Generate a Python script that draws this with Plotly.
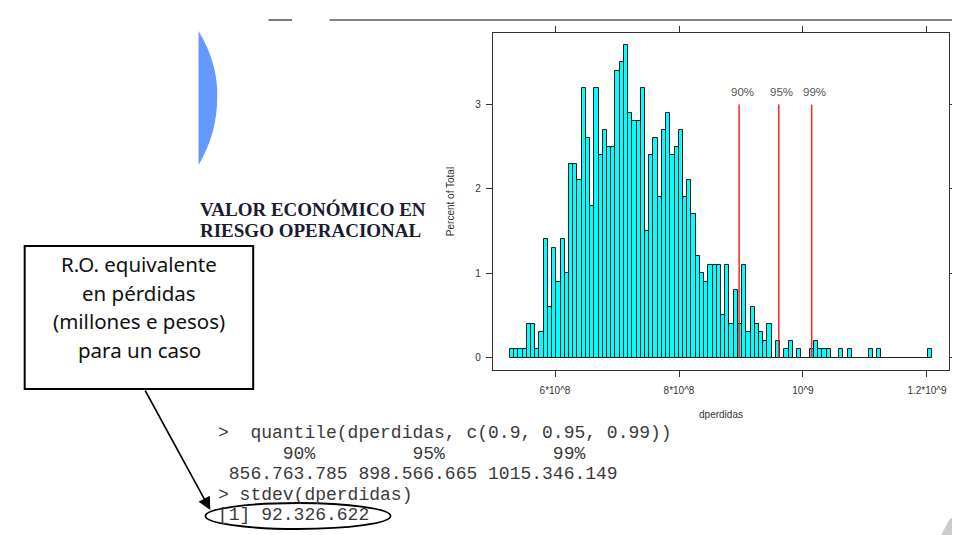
import plotly.graph_objects as go

# ---------------- data ----------------
bin_start = 5.272e8          # left edge of first histogram bin
bin_width = 6.811e6          # width of each bin
percent = [
    0.1, 0.1, 0.1, 0.1, 0.4, 0.4, 0.1, 0.3, 1.4, 0.6,
    1.3, 0.9, 1.4, 1.0, 2.3, 2.3, 2.1, 3.2, 2.6, 1.8,
    3.2, 2.4, 2.7, 2.5, 2.5, 3.4, 3.5, 3.7, 2.9, 2.8,
    2.8, 3.2, 1.5, 2.4, 2.6, 1.9, 2.7, 2.9, 2.4, 2.5,
    2.7, 1.9, 2.1, 1.7, 1.2, 1.0, 0.9, 1.1, 1.1, 1.1,
    0.5, 1.1, 0.4, 0.8, 0.4, 1.1, 0.3, 0.6, 0.4, 0.3,
    0.2, 0.4, 0.0, 0.2, 0.0, 0.1, 0.2, 0.0, 0.1, 0.0,
    0.0, 0.1, 0.2, 0.1, 0.1, 0.1, 0.0, 0.0, 0.1, 0.0,
    0.1, 0.0, 0.0, 0.0, 0.0, 0.1, 0.0, 0.1, 0.0, 0.0,
    0.0, 0.0, 0.0, 0.0, 0.0, 0.0, 0.0, 0.0, 0.0, 0.1,
]
quantile_labels = ["90%", "95%", "99%"]
quantile_pos = [8.97e8, 9.61e8, 1.014e9]
quantile_line_top = 3.0
x_tickvals = [6e8, 8e8, 1e9, 1.2e9]
x_ticktext = ["6*10^8", "8*10^8", "10^9", "1.2*10^9"]
y_tickvals = [0, 1, 2, 3]

title_lines = ["VALOR ECONÓMICO EN", "RIESGO OPERACIONAL"]
box_lines = ["R.O. equivalente", "en pérdidas", "(millones e pesos)", "para un caso"]
console_lines = [
    ">  quantile(dperdidas, c(0.9, 0.95, 0.99))",
    "      90%         95%          99%",
    " 856.763.785 898.566.665 1015.346.149",
    "> stdev(dperdidas)",
    "[1] 92.326.622",
]

# ---------------- layout geometry (pixels) ----------------
W, H = 960, 535
L, R, T, B = 485, 948, 25, 362


def px(x):
    return (x - L) / (R - L)


def py(y):
    return (B - y) / (B - T)


n = len(percent)
centers = [bin_start + (i + 0.5) * bin_width for i in range(n)]
lo, hi = bin_start, bin_start + n * bin_width
pad = 0.04 * (hi - lo)
ymax = max(percent)

fig = go.Figure()
fig.add_trace(go.Bar(
    x=centers, y=percent, width=bin_width,
    marker=dict(color="#00FFFF", line=dict(color="#1a1a1a", width=1)),
    hoverinfo="x+y", showlegend=False,
))

shapes = []
annotations = []

# quantile lines and labels
for lab, q in zip(quantile_labels, quantile_pos):
    shapes.append(dict(type="line", xref="x", yref="y", x0=q, x1=q, y0=0, y1=quantile_line_top,
                       line=dict(color="#F02828", width=1.5)))
    annotations.append(dict(xref="x", yref="y", x=q, y=quantile_line_top, text=lab, showarrow=False,
                            xanchor="center", yanchor="bottom", xshift=3, yshift=5,
                            font=dict(family="Liberation Sans, Arial", size=11.5, color="#555555")))

# page top rule
shapes.append(dict(type="line", xref="paper", yref="paper", x0=px(257), x1=px(281), y0=py(12), y1=py(12),
                   line=dict(color="#5a5a5a", width=1.6)))
shapes.append(dict(type="line", xref="paper", yref="paper", x0=px(319), x1=px(960), y0=py(12), y1=py(12),
                   line=dict(color="#5a5a5a", width=1.6)))

# blue lens shape
shapes.append(dict(type="path", xref="paper", yref="paper",
                   path=(f"M {px(186)},{py(23)} C {px(200)},{py(45)} {px(206)},{py(70)} {px(205)},{py(90)} "
                         f"C {px(205)},{py(112)} {px(199)},{py(136)} {px(186)},{py(157)} Z"),
                   fillcolor="#6699FF", line=dict(width=0)))

# title
for i, t in enumerate(title_lines):
    annotations.append(dict(xref="paper", yref="paper", x=px(185), y=py(201 + 21.5 * i), text=f"<b>{t}</b>",
                            showarrow=False, xanchor="left", yanchor="middle",
                            font=dict(family="Liberation Serif, Times New Roman", size=19, color="#1a1a30")))

# call-out box
box_top, box_bottom = 238, 381
shapes.append(dict(type="rect", xref="paper", yref="paper", x0=px(9.5), x1=px(241.5), y0=py(box_top), y1=py(box_bottom),
                   line=dict(color="black", width=2), fillcolor="rgba(0,0,0,0)"))
for i, t in enumerate(box_lines):
    annotations.append(dict(xref="paper", yref="paper", x=px(126), y=py(256 + 28.5 * i), text=t,
                            showarrow=False, xanchor="center", yanchor="middle",
                            font=dict(family="Noto Sans, Lato", size=20.5, color="#111111")))

# console text
row0, row_step = 425, 20.5
for i, t in enumerate(console_lines):
    annotations.append(dict(xref="paper", yref="paper", x=px(204), y=py(row0 + row_step * i),
                            text=t.replace(" ", "&nbsp;"), showarrow=False, xanchor="left", yanchor="middle",
                            font=dict(family="Liberation Mono, Courier New", size=18, color="#3a3a3a")))

# ellipse around result
y5 = row0 + row_step * 4
shapes.append(dict(type="circle", xref="paper", yref="paper", x0=px(193), x1=px(381), y0=py(y5 - 12), y1=py(y5 + 14),
                   line=dict(color="black", width=1.8)))

# arrow from box to result
annotations.append(dict(xref="paper", yref="paper", x=px(198), y=py(y5 - 5), text="", showarrow=True,
                        ax=132 - 198, ay=box_bottom - (y5 - 5), arrowhead=2, arrowsize=1.6, arrowwidth=1.6,
                        arrowcolor="black"))

# faint grey mark at the bottom-right corner
shapes.append(dict(type="path", xref="paper", yref="paper",
                   path=(f"M {px(937)},{py(533)} L {px(948)},{py(512)} L {px(960)},{py(503)} "
                         f"L {px(960)},{py(535)} L {px(940)},{py(535)} Z"),
                   fillcolor="#b5b5b5", line=dict(width=0), opacity=0.7))

fig.update_layout(
    width=W, height=H,
    margin=dict(l=L, r=W - R, t=T, b=H - B, pad=0),
    paper_bgcolor="white", plot_bgcolor="white",
    shapes=shapes, annotations=annotations,
    bargap=0, showlegend=False,
    font=dict(family="Liberation Sans, Arial", size=10, color="#333333"),
)
fig.update_xaxes(
    range=[lo - pad, hi + pad], tickvals=x_tickvals, ticktext=x_ticktext,
    ticks="outside", ticklen=6, tickcolor="#333333", mirror="ticks",
    showline=True, linecolor="#333333", linewidth=1.3, showgrid=False, zeroline=False,
    tickfont=dict(size=10, color="#333333"), ticklabelstandoff=5,
    title=dict(text="dperdidas", font=dict(size=10, color="#333333"), standoff=15),
)
fig.update_yaxes(
    range=[-0.04 * ymax, 1.04 * ymax], tickvals=y_tickvals,
    ticks="outside", ticklen=6, tickcolor="#333333", mirror="ticks",
    showline=True, linecolor="#333333", linewidth=1.3, showgrid=False, zeroline=False,
    tickfont=dict(size=10, color="#333333"), ticklabelstandoff=3,
    title=dict(text="Percent of Total", font=dict(size=10, color="#333333"), standoff=18),
)

fig.write_html("out.html")
